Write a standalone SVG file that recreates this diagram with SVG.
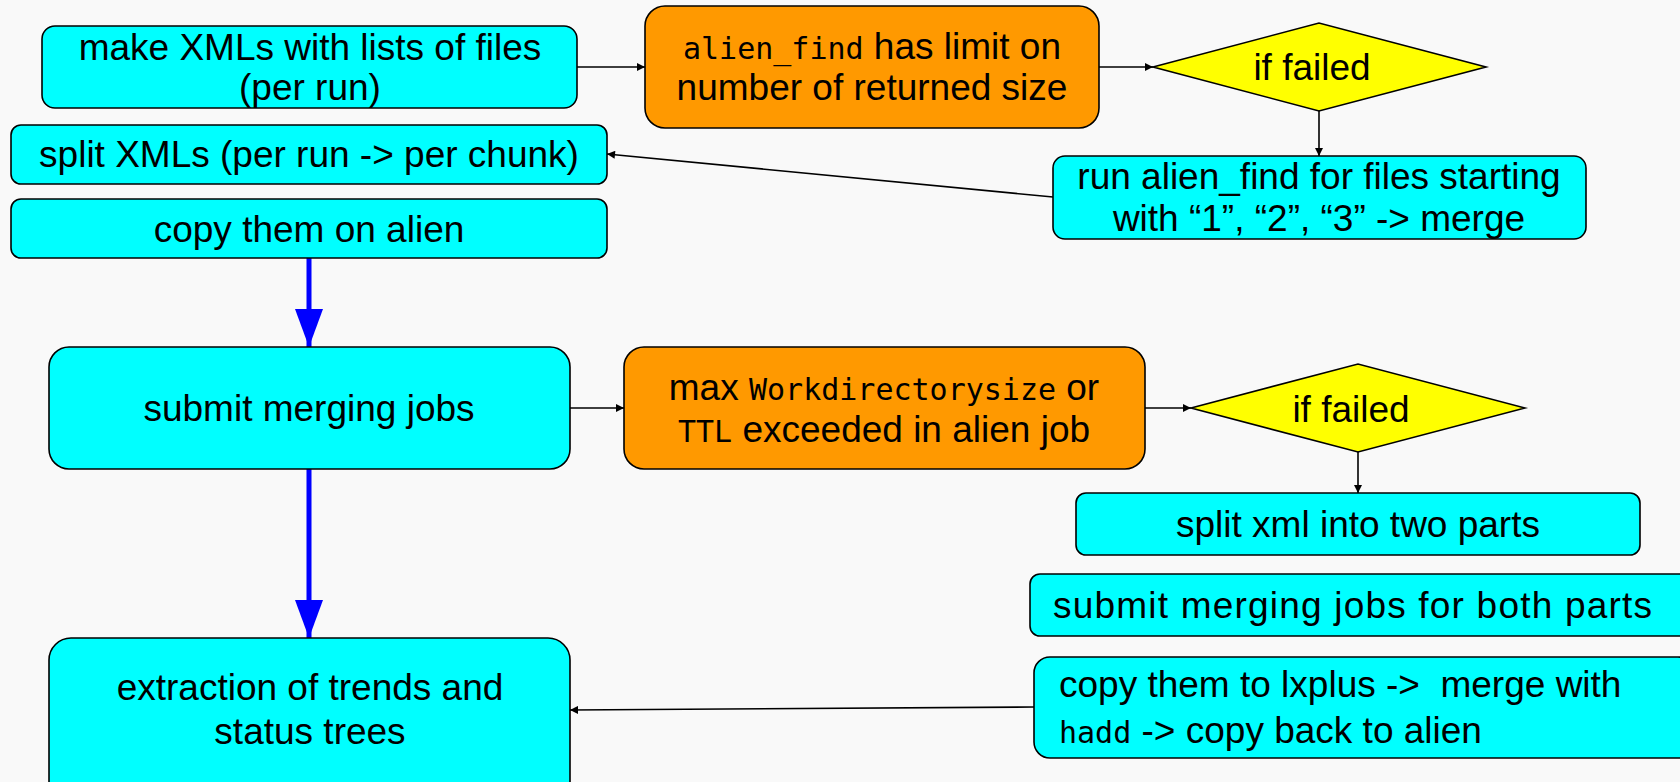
<svg xmlns="http://www.w3.org/2000/svg" width="1680" height="782" viewBox="0 0 1680 782">
  <defs>
    <style>
      .box { fill: #00ffff; stroke: #000; stroke-width: 1.6; }
      .warn { fill: #ff9900; stroke: #000; stroke-width: 1.6; }
      .cond { fill: #ffff00; stroke: #000; stroke-width: 1.6; }
      .t { font-family: "Liberation Sans", Arial, sans-serif; font-size: 37px; fill: #000; }
      .c { text-anchor: middle; }
      .mono { font-family: "DejaVu Sans Mono", "Liberation Mono", monospace; font-size: 30px; }
      .link { fill: none; stroke: #000; stroke-width: 1.6; }
      .flow { fill: none; stroke: #0000ff; stroke-width: 5; }
    </style>
    <marker id="arrow" viewBox="0 0 10 10" refX="10" refY="5" markerWidth="10" markerHeight="8" markerUnits="userSpaceOnUse" orient="auto">
      <path d="M0,0 L10,5 L0,10 z" fill="#000"/>
    </marker>
    <marker id="bigArrow" viewBox="0 0 38 28" refX="38" refY="14" markerWidth="38" markerHeight="28" markerUnits="userSpaceOnUse" orient="auto">
      <path d="M0,0 L38,14 L0,28 z" fill="#0000ff"/>
    </marker>
  </defs>

  <rect x="0" y="0" width="1680" height="782" fill="#f9f9f9"/>

  <!-- connectors -->
  <g id="connectors">
    <line class="link" x1="577" y1="67" x2="645" y2="67" marker-end="url(#arrow)"/>
    <line class="link" x1="1099" y1="67" x2="1153" y2="67" marker-end="url(#arrow)"/>
    <line class="link" x1="1319" y1="111" x2="1319" y2="156" marker-end="url(#arrow)"/>
    <line class="link" x1="1053" y1="197" x2="607" y2="154" marker-end="url(#arrow)"/>
    <line class="flow" x1="309" y1="258" x2="309" y2="347" marker-end="url(#bigArrow)"/>
    <line class="link" x1="570" y1="408" x2="624" y2="408" marker-end="url(#arrow)"/>
    <line class="link" x1="1145" y1="408" x2="1191" y2="408" marker-end="url(#arrow)"/>
    <line class="link" x1="1358" y1="452" x2="1358" y2="493" marker-end="url(#arrow)"/>
    <line class="flow" x1="309" y1="469" x2="309" y2="638" marker-end="url(#bigArrow)"/>
    <line class="link" x1="1034" y1="707" x2="570" y2="710" marker-end="url(#arrow)"/>
  </g>

  <g id="make-xmls">
    <rect class="box" x="42" y="26" width="535" height="82" rx="13"/>
    <text class="t c" x="310" y="60">make XMLs with lists of files</text>
    <text class="t c" x="310" y="100">(per run)</text>
  </g>

  <g id="split-xmls">
    <rect class="box" x="11" y="125" width="596" height="59" rx="10"/>
    <text class="t c" x="309" y="167">split XMLs (per run -&gt; per chunk)</text>
  </g>

  <g id="copy-on-alien">
    <rect class="box" x="11" y="199" width="596" height="59" rx="10"/>
    <text class="t c" x="309" y="242">copy them on alien</text>
  </g>

  <g id="find-limit">
    <rect class="warn" x="645" y="6" width="454" height="122" rx="20"/>
    <text class="t c" x="872" y="59"><tspan class="mono">alien_find</tspan> has limit on</text>
    <text class="t c" x="872" y="100">number of returned size</text>
  </g>

  <g id="find-failed">
    <polygon class="cond" points="1153,67 1319,23 1486,67 1319,111"/>
    <text class="t c" x="1312" y="80">if failed</text>
  </g>

  <g id="find-by-prefix">
    <rect class="box" x="1053" y="156" width="533" height="83" rx="12"/>
    <text class="t c" x="1319" y="189">run alien_find for files starting</text>
    <text class="t c" x="1319" y="231">with “1”, “2”, “3” -&gt; merge</text>
  </g>

  <g id="submit-merging">
    <rect class="box" x="49" y="347" width="521" height="122" rx="20"/>
    <text class="t c" x="309" y="421">submit merging jobs</text>
  </g>

  <g id="job-limit">
    <rect class="warn" x="624" y="347" width="521" height="122" rx="20"/>
    <text class="t c" x="884" y="400">max <tspan class="mono">Workdirectorysize</tspan> or</text>
    <text class="t c" x="884" y="442"><tspan class="mono">TTL</tspan> exceeded in alien job</text>
  </g>

  <g id="job-failed">
    <polygon class="cond" points="1191,408 1358,364 1525,408 1358,452"/>
    <text class="t c" x="1351" y="422">if failed</text>
  </g>

  <g id="split-two">
    <rect class="box" x="1076" y="493" width="564" height="62" rx="10"/>
    <text class="t c" x="1358" y="537">split xml into two parts</text>
  </g>

  <g id="submit-both">
    <rect class="box" x="1030" y="574" width="660" height="62" rx="10"/>
    <text class="t" x="1053" y="618" letter-spacing="1.2">submit merging jobs for both parts</text>
  </g>

  <g id="copy-lxplus">
    <rect class="box" x="1034" y="657" width="660" height="101" rx="16"/>
    <text class="t" x="1059" y="697" xml:space="preserve">copy them to lxplus -&gt;  merge with</text>
    <text class="t" x="1059" y="743"><tspan class="mono">hadd</tspan> -&gt; copy back to alien</text>
  </g>

  <g id="extract-trends">
    <rect class="box" x="49" y="638" width="521" height="170" rx="22"/>
    <text class="t c" x="310" y="700">extraction of trends and</text>
    <text class="t c" x="310" y="744">status trees</text>
  </g>
</svg>
